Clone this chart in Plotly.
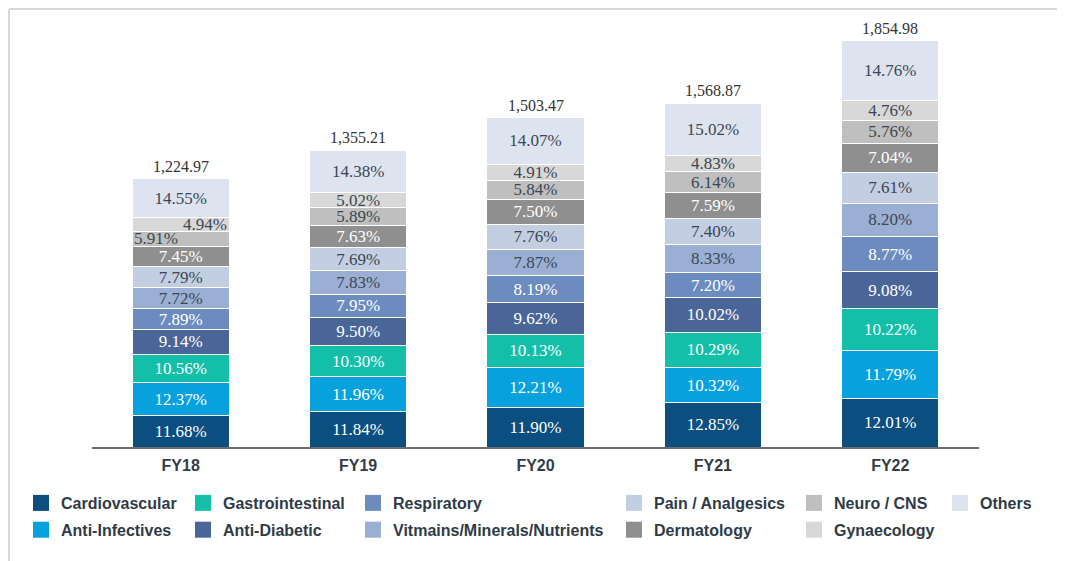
import plotly.graph_objects as go

years = ["FY18", "FY19", "FY20", "FY21", "FY22"]
totals = [1224.97, 1355.21, 1503.47, 1568.87, 1854.98]
total_labels = ["1,224.97", "1,355.21", "1,503.47", "1,568.87", "1,854.98"]

segments = ["Cardiovascular", "Anti-Infectives", "Gastrointestinal", "Anti-Diabetic",
            "Respiratory", "Vitmains/Minerals/Nutrients", "Pain / Analgesics",
            "Dermatology", "Neuro / CNS", "Gynaecology", "Others"]

cardiovascular = [11.68, 11.84, 11.90, 12.85, 12.01]
anti_infectives = [12.37, 11.96, 12.21, 10.32, 11.79]
gastrointestinal = [10.56, 10.30, 10.13, 10.29, 10.22]
anti_diabetic = [9.14, 9.50, 9.62, 10.02, 9.08]
respiratory = [7.89, 7.95, 8.19, 7.20, 8.77]
vitamins = [7.72, 7.83, 7.87, 8.33, 8.20]
pain = [7.79, 7.69, 7.76, 7.40, 7.61]
dermatology = [7.45, 7.63, 7.50, 7.59, 7.04]
neuro = [5.91, 5.89, 5.84, 6.14, 5.76]
gynaecology = [4.94, 5.02, 4.91, 4.83, 4.76]
others = [14.55, 14.38, 14.07, 15.02, 14.76]

shares = [cardiovascular, anti_infectives, gastrointestinal, anti_diabetic, respiratory,
          vitamins, pain, dermatology, neuro, gynaecology, others]

colors = ["#0a4f7f", "#07a2de", "#13bfa8", "#4a6698", "#6c8cbf", "#9aafd3",
          "#c3cee3", "#8f8f8f", "#bfbfbf", "#d8d8d8", "#dde3ef"]
text_colors = ["white", "white", "white", "white", "white", "#3b4753",
               "#3b4753", "white", "#3b4753", "#3b4753", "#3b4753"]
legend_ids = ["legend", "legend", "legend2", "legend2", "legend3", "legend3",
              "legend4", "legend4", "legend5", "legend5", "legend6"]

BARGAP = 0.453
SERIF = "Liberation Serif, Times New Roman, serif"
SANS = "Liberation Sans, Arial, sans-serif"
LABEL_DARK = "#3b4753"

xpos = list(range(len(years)))

fig = go.Figure()
special = []  # FY18 thin segments labelled off-centre
for i, (name, vals) in enumerate(zip(segments, shares)):
    yv = [t * p / 100 for t, p in zip(totals, vals)]
    txt = [f"{p:.2f}%" for p in vals]
    if name in ("Neuro / CNS", "Gynaecology"):
        base = sum(totals[0] * s[0] / 100 for s in shares[:i])
        special.append((name, txt[0], base + yv[0] / 2))
        txt[0] = ""
    fig.add_trace(go.Bar(
        x=xpos, y=yv, name=name, text=txt,
        textposition="inside", insidetextanchor="middle", constraintext="none",
        textangle=0,
        textfont=dict(family=SERIF, size=17, color=text_colors[i]),
        marker=dict(color=colors[i], line=dict(color="white", width=1)),
        showlegend=False, hoverinfo="skip",
    ))

# legend-only entries (bigger square swatches)
for i, name in enumerate(segments):
    fig.add_trace(go.Scatter(
        x=[None], y=[None], mode="markers", name=name,
        marker=dict(symbol="square", size=16, color=colors[i], line=dict(width=0)),
        legend=legend_ids[i], legendgroup=name, showlegend=True, hoverinfo="skip",
    ))

for xi, tot, lab in zip(xpos, totals, total_labels):
    fig.add_annotation(x=xi, y=tot, xref="x", yref="y", text=lab, showarrow=False,
                       xanchor="center", yanchor="bottom", yshift=2,
                       font=dict(family=SERIF, size=16, color="#333333"))

half = (1 - BARGAP) / 2
for name, label, ymid in special:
    if name == "Gynaecology":
        fig.add_annotation(x=xpos[0] + half, y=ymid, xref="x", yref="y", text=label,
                           showarrow=False, xanchor="right", yanchor="middle",
                           font=dict(family=SERIF, size=17, color=LABEL_DARK))
    else:
        fig.add_annotation(x=xpos[0] - half, y=ymid, xref="x", yref="y", text=label,
                           showarrow=False, xanchor="left", yanchor="middle",
                           font=dict(family=SERIF, size=17, color=LABEL_DARK))

W, H = 1057, 553
legend_lefts = [13, 175, 345, 606, 786, 932]
legend_font = dict(family=SANS, size=16, color="#2f3b46", weight="bold")
legend_common = dict(orientation="v", xref="container", yref="container",
                     xanchor="left", yanchor="top", traceorder="grouped",
                     font=legend_font, bgcolor="rgba(0,0,0,0)", tracegroupgap=3,
                     itemclick=False, itemdoubleclick=False, itemsizing="trace")
legends = {}
for k, lx in enumerate(legend_lefts):
    key = "legend" if k == 0 else f"legend{k + 1}"
    legends[key] = dict(legend_common, x=lx / W, y=1 - 478 / H)

PL, PR, PT, PB = 84, 971, 12, 439
pw, ph = PR - PL, PB - PT

fig.update_layout(
    width=W, height=H, barmode="stack", bargap=BARGAP,
    margin=dict(l=PL, r=W - PR, t=PT, b=H - PB, autoexpand=False),
    paper_bgcolor="white", plot_bgcolor="white",
    showlegend=True,
    uniformtext=dict(minsize=17, mode="show"),
    xaxis=dict(range=[-0.5, 4.5], tickvals=xpos, ticktext=years,
               showline=True, linecolor="#6e6e6e", linewidth=1.5, ticks="",
               ticklabelstandoff=3,
               tickfont=dict(family=SANS, size=16, color="#333d47", weight="bold"),
               showgrid=False, zeroline=False),
    yaxis=dict(range=[0, 1950], visible=False, showgrid=False),
    shapes=[
        dict(type="line", xref="paper", yref="paper",
             x0=(1 - PL) / pw, x1=(1 - PL) / pw,
             y0=(PB - 1) / ph, y1=(PB - H) / ph, line=dict(color="#d9d9d9", width=2)),
        dict(type="line", xref="paper", yref="paper",
             x0=(1 - PL) / pw, x1=(W - PL) / pw,
             y0=(PB - 1) / ph, y1=(PB - 1) / ph, line=dict(color="#d9d9d9", width=2)),
    ],
    **legends,
)

fig.write_html("out.html")
